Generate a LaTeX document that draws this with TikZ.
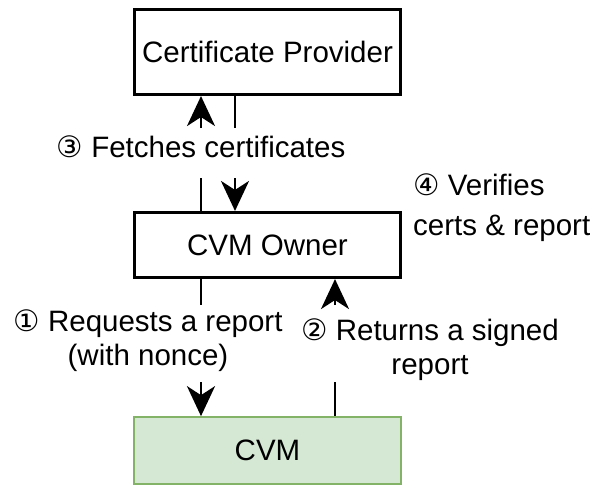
\documentclass[tikz,border=0pt]{standalone}
\usepackage{fontspec}
\setmainfont{Liberation Sans}
\newfontfamily\circfont{DejaVu Sans}
\usetikzlibrary{arrows.meta}
\newcommand{\stepno}[1]{{\circfont #1}}
\definecolor{cvmfill}{HTML}{D5E8D4}
\definecolor{cvmline}{HTML}{82B366}
\begin{document}
\begin{tikzpicture}[x=1pt,y=-1pt,
  txt/.style={font=\fontsize{29.5}{34}\selectfont},
  box/.style={txt, draw=black, line width=2.6pt, fill=white,
    minimum width=266.5pt, inner sep=0pt},
  lbl/.style={txt, inner sep=0pt},
  flow/.style={line width=2.6pt},
  head/.style={-{Stealth[length=30pt,width=28pt,inset=9pt]}}
]
\fill[white] (0,0) rectangle (596,488);

% boxes
\node[box, minimum height=85.5pt] (prov) at (267.5,52) {Certificate Provider};
\node[box, minimum height=65.5pt] (own) at (267.5,245) {CVM Owner};
\node[box, minimum height=66.5pt, fill=cvmfill, draw=cvmline, line width=2.2pt] (cvm) at (267.5,450.5) {CVM};

% gap ends of the split connectors
\coordinate (f1) at (201,128);
\coordinate (f2) at (201,178);
\coordinate (f3) at (235,128);
\coordinate (f4) at (235,178);
\coordinate (r1) at (201,305);
\coordinate (r2) at (201,382);
\coordinate (s1) at (335,305);
\coordinate (s2) at (335,382);

% owner <-> certificate provider
\draw[flow,head] (f1) -- (f1 |- prov.south);
\draw[flow] (f2 |- own.north) -- (f2);
\draw[flow] (f3 |- prov.south) -- (f3);
\draw[flow,head] (f4) -- (f4 |- own.north);

% owner <-> CVM
\draw[flow] (r1 |- own.south) -- (r1);
\draw[flow,head] (r2) -- (r2 |- cvm.north);
\draw[flow,head] (s1) -- (s1 |- own.south);
\draw[flow] (s2) -- (s2 |- cvm.north);

% step labels
\node[lbl] (l3) at (201,147) {\stepno{③} Fetches certificates};
\node[lbl, align=center] (l1) at (148,341) {\stepno{①} Requests a report\\(with nonce)};
\node[lbl, align=center] (l2) at (430,350) {\stepno{②} Returns a signed\\report};
\node[lbl, align=left, anchor=west] (l4) at (413,208) {\stepno{④} Verifies\\[6pt]certs \& report};
\end{tikzpicture}
\end{document}
